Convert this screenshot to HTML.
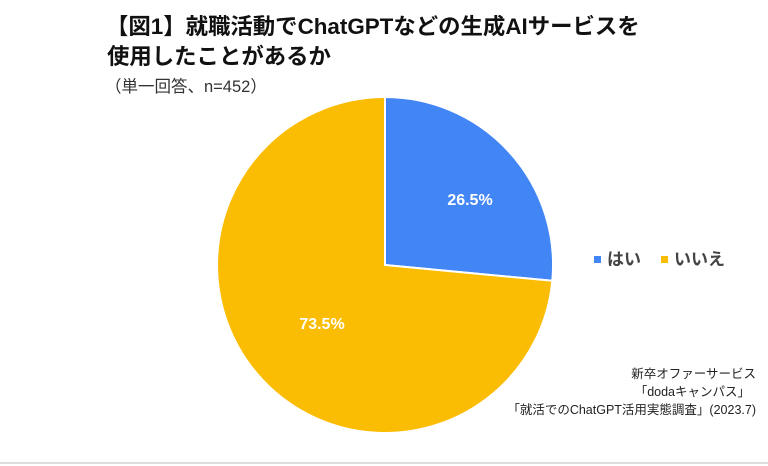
<!DOCTYPE html>
<html><head><meta charset="utf-8"><style>
html,body{margin:0;padding:0;background:#fff;}
svg{display:block;font-family:"Liberation Sans","Noto Sans CJK JP",sans-serif;}
</style></head><body>
<svg width="768" height="466" viewBox="0 0 768 466">
<rect width="768" height="466" fill="#fff"/>
<text x="106" y="34" font-size="22.4" font-weight="bold" fill="#111">【図1】就職活動でChatGPTなどの生成AIサービスを</text>
<text x="107" y="64" font-size="22.4" font-weight="bold" fill="#111">使用したことがあるか</text>
<text x="105" y="92" font-size="16.5" fill="#333">（単一回答、n=452）</text>
<path d="M385,265 L385,97 A168,168 0 0 1 552.3,280.8 Z" fill="#4285F4" stroke="#fff" stroke-width="2"/>
<path d="M385,265 L552.3,280.8 A168,168 0 1 1 385,97 Z" fill="#FBBC04" stroke="#fff" stroke-width="2"/>
<text x="470" y="205" font-size="16" font-weight="bold" fill="#fff" text-anchor="middle">26.5%</text>
<text x="322" y="329" font-size="16" font-weight="bold" fill="#fff" text-anchor="middle">73.5%</text>
<rect x="594" y="256" width="7" height="7" fill="#4285F4"/>
<text x="607" y="265" font-size="17" font-weight="bold" fill="#444">はい</text>
<rect x="661" y="256" width="7" height="7" fill="#FBBC04"/>
<text x="674" y="265" font-size="17" font-weight="bold" fill="#444">いいえ</text>
<g font-size="12.5" fill="#222" text-anchor="end">
<text x="756" y="378">新卒オファーサービス</text>
<text x="750" y="396">「dodaキャンパス」</text>
<text x="756" y="414">「就活でのChatGPT活用実態調査」(2023.7)</text>
</g>
<rect x="0" y="462" width="768" height="2" fill="#ddd"/>
</svg>
</body></html>
